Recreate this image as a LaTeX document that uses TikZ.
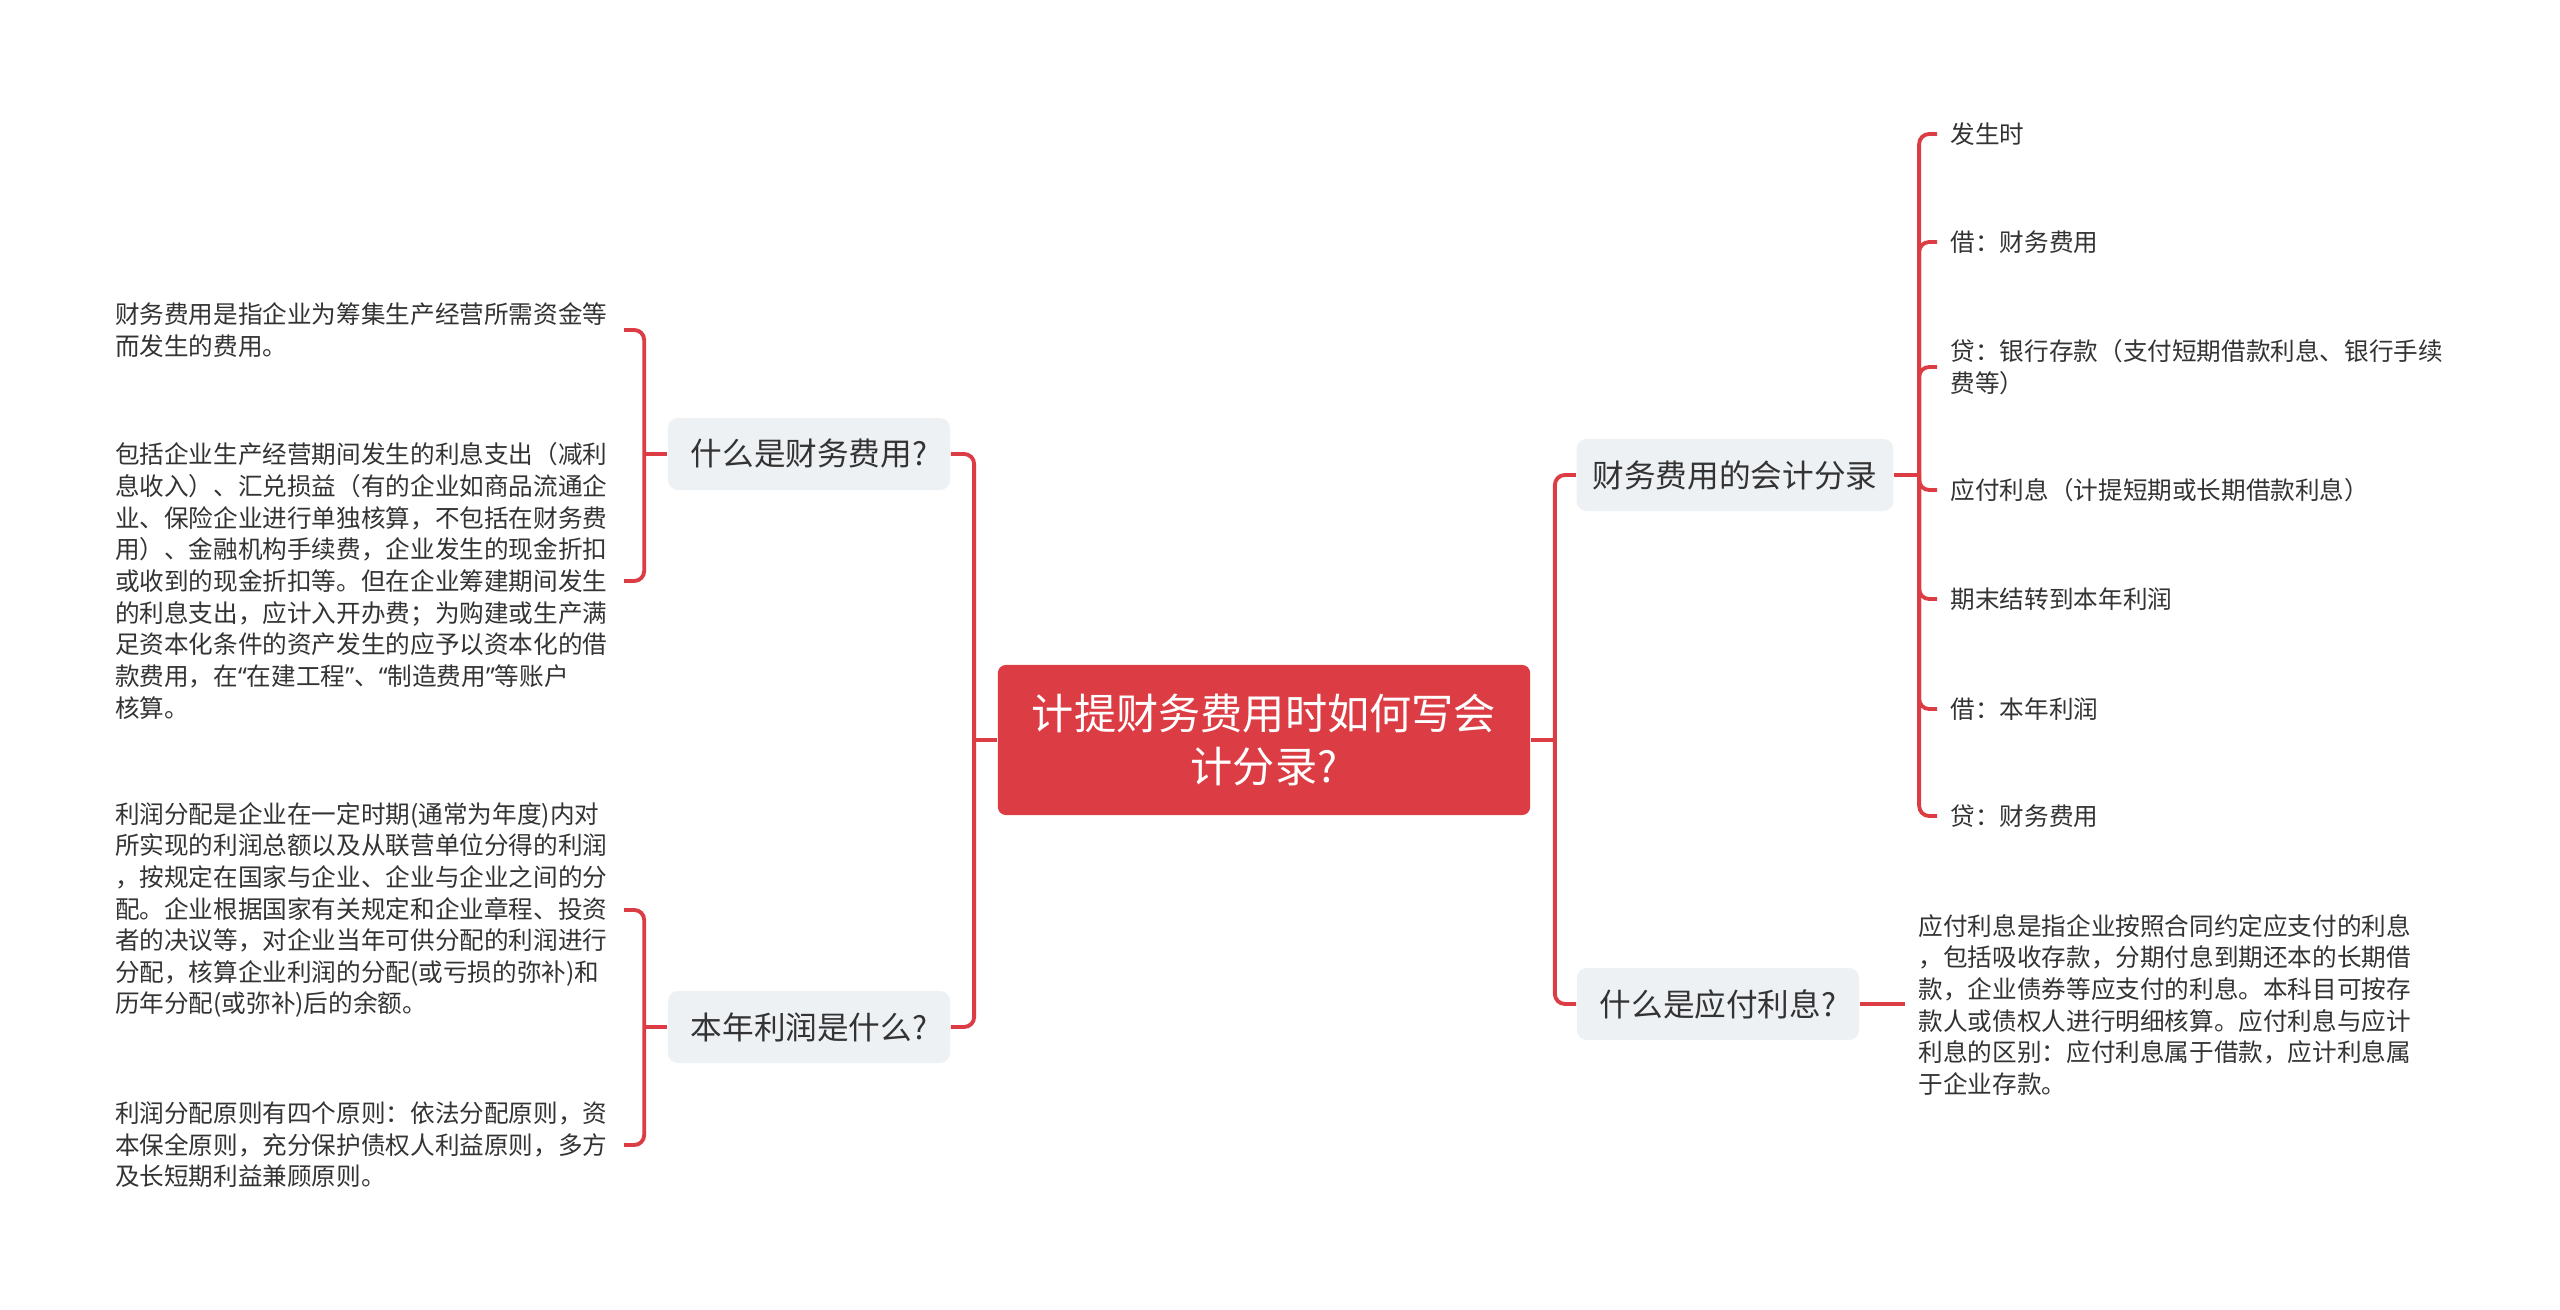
\documentclass[tikz,border=0pt]{standalone}
\usepackage{fontspec}
\setmainfont{Noto Sans CJK SC}
\newfontfamily\quotefont{Noto Sans}
\usepackage{tikz}
\usetikzlibrary{positioning, calc}
\definecolor{MapRed}{HTML}{DC3C44}
\definecolor{TopicGray}{HTML}{EEF1F4}
\definecolor{TextGray}{HTML}{333333}
\newcommand{\oq}{{\quotefont “}}
\newcommand{\cq}{{\quotefont ”}}

\begin{document}
\begin{tikzpicture}[x=0.01cm, y=-0.01cm,
    link/.style={draw=MapRed, line width=1.1pt, rounded corners=0.1cm},
    root/.style={fill=MapRed, text=white, rounded corners=0.08cm, minimum width=5.32cm,
        minimum height=1.5cm, align=center, font=\fontsize{12}{14.8}\selectfont},
    topic/.style={fill=TopicGray, text=TextGray, rounded corners=0.1cm, minimum height=0.72cm,
        inner xsep=0.16cm, font=\fontsize{9}{11}\selectfont},
    note/.style={text=TextGray, align=left, inner xsep=0.13cm, inner ysep=0pt,
        font=\fontsize{7}{9}\selectfont},
    block/.style={note, text width=4.95cm}]
    \useasboundingbox (0,0) rectangle (2560,1310);

    % centre and main topics
    \node[root] (root) at (1264,740) {计提财务费用时如何写会\\计分录?};
    \node[topic, minimum width=2.82cm] (what) at (809,454) {什么是财务费用?};
    \node[topic, minimum width=2.82cm] (profit) at (809,1027) {本年利润是什么?};
    \node[topic, minimum width=3.15cm] (entry) at (1735,475) {财务费用的会计分录};
    \node[topic, minimum width=2.82cm] (payable) at (1718,1004) {什么是应付利息?};

    % left notes
    \node[block, anchor=east] (define) at (624,330) {财务费用是指企业为筹集生产经营所需资金等\\
        而发生的费用。};
    \node[block, anchor=east] (scope) at (624,581) {包括企业生产经营期间发生的利息支出（减利\\
        息收入）、汇兑损益（有的企业如商品流通企\\
        业、保险企业进行单独核算，不包括在财务费\\
        用）、金融机构手续费，企业发生的现金折扣\\
        或收到的现金折扣等。但在企业筹建期间发生\\
        的利息支出，应计入开办费；为购建或生产满\\
        足资本化条件的资产发生的应予以资本化的借\\
        款费用，在\oq 在建工程\cq 、\oq 制造费用\cq 等账户\\
        核算。};
    \node[block, anchor=east] (share) at (624,910) {利润分配是企业在一定时期(通常为年度)内对\\
        所实现的利润总额以及从联营单位分得的利润\\
        ，按规定在国家与企业、企业与企业之间的分\\
        配。企业根据国家有关规定和企业章程、投资\\
        者的决议等，对企业当年可供分配的利润进行\\
        分配，核算企业利润的分配(或亏损的弥补)和\\
        历年分配(或弥补)后的余额。};
    \node[block, anchor=east] (rule) at (624,1145) {利润分配原则有四个原则：依法分配原则，资\\
        本保全原则，充分保护债权人利益原则，多方\\
        及长短期利益兼顾原则。};

    % right entries
    \node[note, anchor=west] (e1) at (1937,134) {发生时};
    \node[note, anchor=west] (e2) at (1937,242) {借：财务费用};
    \node[note, anchor=west] (e3) at (1937,367) {贷：银行存款（支付短期借款利息、银行手续\\费等）};
    \node[note, anchor=west] (e4) at (1937,490) {应付利息（计提短期或长期借款利息）};
    \node[note, anchor=west] (e5) at (1937,599) {期末结转到本年利润};
    \node[note, anchor=west] (e6) at (1937,709) {借：本年利润};
    \node[note, anchor=west] (e7) at (1937,816) {贷：财务费用};
    \node[block, anchor=west] (payinfo) at (1905,1005) {应付利息是指企业按照合同约定应支付的利息\\
        ，包括吸收存款，分期付息到期还本的长期借\\
        款，企业债券等应支付的利息。本科目可按存\\
        款人或债权人进行明细核算。应付利息与应计\\
        利息的区别：应付利息属于借款，应计利息属\\
        于企业存款。};

    % joints
    \coordinate (lj) at ([xshift=-0.23cm]root.west);
    \coordinate (rj) at ([xshift=0.24cm]root.east);
    \coordinate (wj) at ([xshift=-0.23cm]what.west);
    \coordinate (pj) at ([xshift=-0.23cm]profit.west);
    \coordinate (ej) at ([xshift=0.25cm]entry.east);

    % connectors
    \draw[link] (root.west) -- (lj);
    \draw[link] (lj) |- (what.east);
    \draw[link] (lj) |- (profit.east);
    \draw[link] (root.east) -- (rj);
    \draw[link] (rj) |- (entry.west);
    \draw[link] (rj) |- (payable.west);
    \draw[link] (what.west) -- (wj);
    \draw[link] (wj) |- (define.east);
    \draw[link] (wj) |- (scope.east);
    \draw[link] (profit.west) -- (pj);
    \draw[link] (pj) |- (share.east);
    \draw[link] (pj) |- (rule.east);
    \draw[link] (entry.east) -- (ej);
    \foreach \n in {e1,e2,e3,e4,e5,e6,e7}
        \draw[link] (ej) |- (\n.west);
    \draw[link] (payable.east) -- (payable.east -| payinfo.west);
\end{tikzpicture}
\end{document}
